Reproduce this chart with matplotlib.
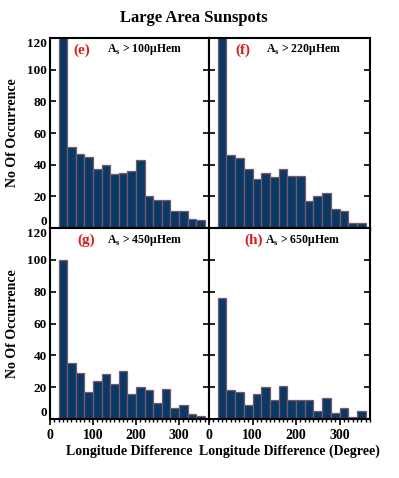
import matplotlib.pyplot as plt
import numpy as np
from matplotlib.ticker import MultipleLocator

plt.rcParams['font.family'] = 'Liberation Serif'
plt.rcParams['font.weight'] = 'bold'
plt.rcParams['mathtext.fontset'] = 'custom'
plt.rcParams['mathtext.rm'] = 'Liberation Serif:bold'
plt.rcParams['mathtext.bf'] = 'Liberation Serif:bold'

# bin edges (degrees) and counts per panel
bins = np.arange(20, 361, 20)
counts_e = [140, 51, 47, 45, 37, 40, 34, 35, 36, 43, 20, 18, 18, 11, 11, 6, 5]
counts_f = [140, 46, 44, 37, 31, 35, 32, 37, 33, 33, 17, 20, 22, 12, 11, 3, 3]
counts_g = [100, 35, 29, 17, 24, 28, 22, 30, 16, 20, 18, 10, 19, 7, 9, 3, 2]
counts_h = [76, 18, 17, 9, 16, 20, 12, 21, 12, 12, 12, 5, 13, 4, 7, 1.5, 5]

tags = ['(e)', '(f)', '(g)', '(h)']
areas = ['100', '220', '450', '650']

fill = '#0b3966'
edge = '#7a5a66'

fig = plt.figure(figsize=(3.99, 4.78), dpi=100)
W, H = 399., 478.
pos = [(50, 38, 159, 190), (209, 38, 161, 190),
       (50, 228, 159, 191), (209, 228, 161, 191)]
data = [counts_e, counts_f, counts_g, counts_h]
tagx = [0.20, 0.21, 0.226, 0.28]
asx = [0.36, 0.354, 0.36, 0.348]

for i in range(4):
    x0, y0, w, h = pos[i]
    ax = fig.add_axes([x0 / W, 1 - (y0 + h) / H, w / W, h / H])
    ax.bar(bins[:-1], data[i], width=20, align='edge', color=fill,
           edgecolor=edge, linewidth=0.9)
    ax.set_xlim(0, 370)
    ax.set_ylim(0, 120)
    ax.set_xticks([0, 100, 200, 300])
    ax.xaxis.set_minor_locator(MultipleLocator(10))
    ax.set_yticks(np.arange(0, 121, 20))
    for s in ax.spines.values():
        s.set_linewidth(1.5)
    ax.tick_params(axis='x', which='major', direction='out', length=4, width=1.2,
                   top=False, labelsize=10, pad=3)
    ax.tick_params(axis='x', which='minor', direction='out', length=2, width=1,
                   top=False)
    ax.tick_params(axis='y', which='major', direction='in', length=4, width=1.2,
                   left=True, right=True, labelsize=9.5, pad=2)
    if i < 2:
        ax.set_xticklabels([])
    if i % 2 == 1:
        ax.set_yticklabels([])
    else:
        ax.set_ylabel('No Of Occurrence', fontsize=10, fontweight='bold', labelpad=6)
        labs = ax.get_yticklabels()
        labs[0].set_va('bottom')
        labs[-1].set_va('top')
    ax.text(tagx[i], 0.937, tags[i], transform=ax.transAxes, color='#d42020',
            fontsize=11, fontweight='bold', ha='center', va='center')
    ax.text(asx[i], 0.937, r'A$_{\mathrm{s}}$ > ' + areas[i] + 'μHem',
            transform=ax.transAxes, fontsize=8.5, fontweight='bold',
            ha='left', va='center')
    if i == 2:
        ax.set_xlabel('Longitude Difference', fontsize=10, fontweight='bold', labelpad=2)
    if i == 3:
        ax.set_xlabel('Longitude Difference (Degree)', fontsize=10,
                      fontweight='bold', labelpad=2)

fig.text(194 / W, 1 - 18 / H, 'Large Area Sunspots', fontsize=12,
         fontweight='bold', ha='center', va='center')

fig.savefig('out.png', dpi=100)
